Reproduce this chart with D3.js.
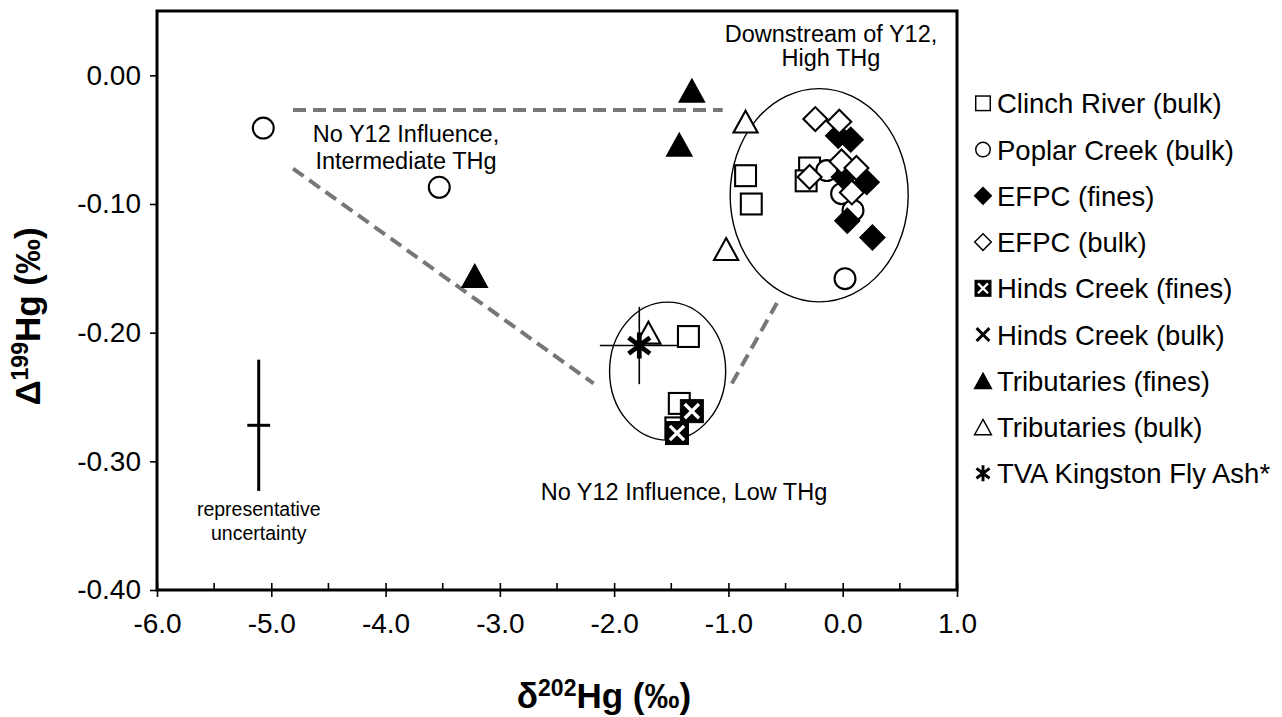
<!DOCTYPE html>
<html>
<head>
<meta charset="utf-8">
<script src="https://cdn.jsdelivr.net/npm/d3@7"></script>
<style>
  body { margin: 0; background: #fff; }
  svg { display: block; }
  text { font-family: "Liberation Sans", Arial, sans-serif; fill: #000; }
</style>
</head>
<body>
<svg id="chart" width="1282" height="717"></svg>
<script>
// Sample groups: [δ202Hg, Δ199Hg] in ‰
const clinchRiverBulk = [[-0.85, -0.078], [-0.80, -0.100], [-0.29, -0.072], [-0.32, -0.082],
                         [-1.35, -0.203], [-1.43, -0.255], [-1.46, -0.274]];
const poplarCreekBulk = [[-5.07, -0.041], [-3.53, -0.087], [-0.14, -0.074], [-0.01, -0.092],
                         [0.09, -0.105], [0.02, -0.158]];
const efpcFines = [[-0.04, -0.047], [0.07, -0.050], [0.01, -0.079], [0.21, -0.083],
                   [0.04, -0.113], [0.26, -0.126]];
const efpcBulk = [[-0.24, -0.034], [-0.03, -0.036], [-0.01, -0.067], [0.12, -0.072],
                  [-0.29, -0.079], [0.08, -0.091]];
const hindsCreekFines = [[-1.32, -0.261], [-1.45, -0.278]];
const hindsCreekBulk = [];
const tributariesFines = [[-1.32, -0.012], [-1.43, -0.054], [-3.22, -0.156]];
const tributariesBulk = [[-0.85, -0.036], [-1.02, -0.135], [-1.70, -0.200]];
const tvaFlyAsh = [[-1.78, -0.210]];
const tvaFlyAshError = [0.345, 0.030];        // ± δ202Hg, ± Δ199Hg
const typicalPoint = [-5.11, -0.272];          // representative uncertainty cross
const typicalError = [0.10, 0.051];

const xTicks = [-6, -5, -4, -3, -2, -1, 0, 1];
const xTickLabels = ["-6.0", "-5.0", "-4.0", "-3.0", "-2.0", "-1.0", "0.0", "1.0"];
const xMinorTicks = [-5.5, -4.5, -3.5, -2.5, -1.5, -0.5, 0.5];
const yTicks = [0, -0.1, -0.2, -0.3, -0.4];
const yTickLabels = ["0.00", "-0.10", "-0.20", "-0.30", "-0.40"];

const seriesNames = ["Clinch River (bulk)", "Poplar Creek (bulk)", "EFPC (fines)", "EFPC (bulk)",
  "Hinds Creek (fines)", "Hinds Creek (bulk)", "Tributaries (fines)", "Tributaries (bulk)",
  "TVA Kingston Fly Ash*"];
const seriesData = [clinchRiverBulk, poplarCreekBulk, efpcFines, efpcBulk, hindsCreekFines,
  hindsCreekBulk, tributariesFines, tributariesBulk, tvaFlyAsh];
const seriesMarkers = ["square", "circle", "diamondFilled", "diamond", "squareX", "cross",
  "triangleFilled", "triangle", "star"];

// Grouping ellipses (center x, center y, radius x, radius y, data units)
const groupEllipses = [[-0.206, -0.0932, 0.779, 0.0829], [-1.532, -0.2299, 0.508, 0.0536]];
// Mixing trend guides
const trendLines = [
  [[-4.81, -0.027], [-1.05, -0.027]],
  [[-4.81, -0.0725], [-2.18, -0.2395]],
  [[-0.97, -0.2395], [-0.576, -0.177]]
];

const svg = d3.select("#chart");
const plotLeft = 157, plotRight = 957, plotTop = 11, plotBottom = 590;
const x = d3.scaleLinear().domain([-6, 1]).range([plotLeft, plotRight]);
const y = d3.scaleLinear().domain([-0.4, 0.05]).range([plotBottom, plotTop]);

// Marker shapes, s = nominal size in px
function drawMarker(g, type, s) {
  const h = s / 2;
  const sw = Math.max(1.4, s / 11);
  switch (type) {
    case "square":
      g.append("rect").attr("x", -h + sw / 2).attr("y", -h + sw / 2)
        .attr("width", s - sw).attr("height", s - sw)
        .attr("fill", "#fff").attr("stroke", "#000").attr("stroke-width", sw);
      break;
    case "circle":
      g.append("circle").attr("r", h - sw / 2)
        .attr("fill", "#fff").attr("stroke", "#000").attr("stroke-width", sw);
      break;
    case "diamond":
    case "diamondFilled": {
      const r = h * 1.04;
      g.append("path").attr("d", `M0,${-r}L${r},0L0,${r}L${-r},0Z`)
        .attr("fill", type === "diamond" ? "#fff" : "#000")
        .attr("stroke", "#000").attr("stroke-width", sw).attr("stroke-linejoin", "miter");
      break;
    }
    case "triangle":
    case "triangleFilled": {
      const w = h * 1.05, th = h * 0.95;
      g.append("path").attr("d", `M0,${-th}L${w},${th}L${-w},${th}Z`)
        .attr("fill", type === "triangle" ? "#fff" : "#000")
        .attr("stroke", "#000").attr("stroke-width", sw).attr("stroke-linejoin", "miter");
      break;
    }
    case "squareX": {
      g.append("rect").attr("x", -h).attr("y", -h).attr("width", s).attr("height", s)
        .attr("fill", "#000").attr("stroke", "#000").attr("stroke-width", 1);
      const k = h * 0.62;
      g.append("path").attr("d", `M${-k},${-k}L${k},${k}M${k},${-k}L${-k},${k}`)
        .attr("stroke", "#fff").attr("stroke-width", s / 7).attr("fill", "none");
      break;
    }
    case "cross": {
      const k = h * 0.8;
      g.append("path").attr("d", `M${-k},${-k}L${k},${k}M${k},${-k}L${-k},${k}`)
        .attr("stroke", "#000").attr("stroke-width", s / 5.5).attr("fill", "none");
      break;
    }
    case "star": {
      const k = h * 0.82;
      g.append("path").attr("d", `M${-k},${-k * 0.75}L${k},${k * 0.75}M${k},${-k * 0.75}L${-k},${k * 0.75}M0,${-h}L0,${h}`)
        .attr("stroke", "#000").attr("stroke-width", s / 5.5).attr("fill", "none");
      break;
    }
  }
}

// Trend guides
svg.append("g").selectAll("line").data(trendLines).join("line")
  .attr("x1", d => x(d[0][0])).attr("y1", d => y(d[0][1]))
  .attr("x2", d => x(d[1][0])).attr("y2", d => y(d[1][1]))
  .attr("stroke", "#777").attr("stroke-width", 4).attr("stroke-dasharray", "13,7");

// Group ellipses
svg.append("g").selectAll("ellipse").data(groupEllipses).join("ellipse")
  .attr("cx", d => x(d[0])).attr("cy", d => y(d[1]))
  .attr("rx", d => x(d[0] + d[2]) - x(d[0])).attr("ry", d => y(d[1] - d[3]) - y(d[1]))
  .attr("fill", "none").attr("stroke", "#000").attr("stroke-width", 1.4);

// Error bars of the fly ash sample
const eb = svg.append("g").attr("stroke", "#000").attr("stroke-width", 1.6);
tvaFlyAsh.forEach(([dx, dy]) => {
  eb.append("line").attr("x1", x(dx - tvaFlyAshError[0])).attr("x2", x(dx + tvaFlyAshError[0]))
    .attr("y1", y(dy)).attr("y2", y(dy));
  eb.append("line").attr("x1", x(dx)).attr("x2", x(dx))
    .attr("y1", y(dy + tvaFlyAshError[1])).attr("y2", y(dy - tvaFlyAshError[1]));
});

// Data points
const pts = svg.append("g");
seriesData.forEach((data, i) => {
  data.forEach(([dx, dy]) => {
    const g = pts.append("g").attr("transform", `translate(${x(dx)},${y(dy)})`);
    drawMarker(g, seriesMarkers[i], seriesMarkers[i] === "star" ? 26 : 23);
  });
});

// Representative uncertainty
const ru = svg.append("g").attr("stroke", "#000").attr("stroke-width", 3);
ru.append("line").attr("x1", x(typicalPoint[0])).attr("x2", x(typicalPoint[0]))
  .attr("y1", y(typicalPoint[1] + typicalError[1])).attr("y2", y(typicalPoint[1] - typicalError[1]));
ru.append("line").attr("x1", x(typicalPoint[0] - typicalError[0])).attr("x2", x(typicalPoint[0] + typicalError[0]))
  .attr("y1", y(typicalPoint[1])).attr("y2", y(typicalPoint[1]));
const ruText = svg.append("text").attr("text-anchor", "middle").attr("font-size", 19.5);
ruText.append("tspan").attr("x", x(typicalPoint[0])).attr("y", 516).text("representative");
ruText.append("tspan").attr("x", x(typicalPoint[0])).attr("y", 540).text("uncertainty");

// Group labels
function label(lines, cx, y0, lh) {
  const t = svg.append("text").attr("text-anchor", "middle").attr("font-size", 23.5);
  lines.forEach((s, i) => t.append("tspan").attr("x", cx).attr("y", y0 + i * lh).text(s));
}
label(["No Y12 Influence,", "Intermediate THg"], 406, 141.5, 27);
label(["Downstream of Y12,", "High THg"], 831, 42, 24);
label(["No Y12 Influence, Low THg"], 684, 499.5, 27);

// Axes
const xAxis = svg.append("g").attr("transform", `translate(0,${plotBottom})`)
  .call(d3.axisBottom(x).tickValues(xTicks).tickFormat((d, i) => xTickLabels[i])
    .tickSize(7).tickPadding(16));
xAxis.selectAll(".tick line").attr("y1", -7).attr("stroke-width", 1.6);
xAxis.select(".domain").remove();
xAxis.selectAll("text").attr("font-size", 28).attr("font-family", null);
svg.append("g").selectAll("line").data(xMinorTicks).join("line")
  .attr("x1", d => x(d)).attr("x2", d => x(d)).attr("y1", plotBottom - 7).attr("y2", plotBottom)
  .attr("stroke", "#000").attr("stroke-width", 1.6);

const yAxis = svg.append("g").attr("transform", `translate(${plotLeft},0)`)
  .call(d3.axisLeft(y).tickValues(yTicks).tickFormat((d, i) => yTickLabels[i])
    .tickSize(7).tickPadding(9));
yAxis.select(".domain").remove();
yAxis.selectAll(".tick line").attr("stroke-width", 1.6);
yAxis.selectAll("text").attr("font-size", 28).attr("font-family", null);

// Plot frame
svg.append("rect").attr("x", plotLeft).attr("y", plotTop)
  .attr("width", plotRight - plotLeft).attr("height", plotBottom - plotTop)
  .attr("fill", "none").attr("stroke", "#000").attr("stroke-width", 3);

// Axis titles
const xt = svg.append("text").attr("text-anchor", "middle").attr("font-size", 35)
  .attr("font-weight", "bold").attr("x", 604).attr("y", 708);
xt.append("tspan").text("δ");
xt.append("tspan").attr("font-size", 23).attr("dy", -12).text("202");
xt.append("tspan").attr("dy", 12).text("Hg (‰)");

const yt = svg.append("text").attr("text-anchor", "middle").attr("font-size", 35)
  .attr("font-weight", "bold")
  .attr("transform", `translate(40,${(plotTop + plotBottom) / 2 + 16}) rotate(-90)`);
yt.append("tspan").text("Δ");
yt.append("tspan").attr("font-size", 23).attr("dy", -12).text("199");
yt.append("tspan").attr("dy", 12).text("Hg (‰)");

// Legend
const legend = svg.append("g");
seriesNames.forEach((name, i) => {
  const cy = 103.3 + i * 46.25;
  const g = legend.append("g").attr("transform", `translate(983,${cy})`);
  drawMarker(g, seriesMarkers[i], 16);
  legend.append("text").attr("x", 997).attr("y", cy + 10).attr("font-size", 27.5).text(name);
});
</script>
</body>
</html>
